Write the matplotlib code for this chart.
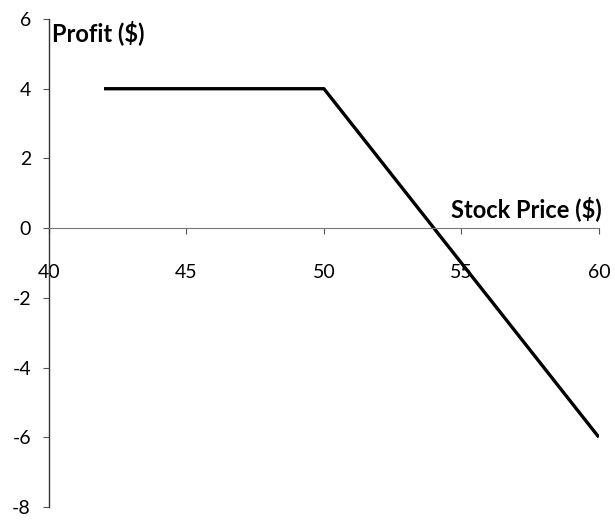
import matplotlib
matplotlib.use("Agg")
import matplotlib.pyplot as plt

# payoff of the position
stock_price = [42, 50, 60]
profit = [4, 4, -6]

x_ticks = [40, 45, 50, 55, 60]
y_ticks = [-8, -6, -4, -2, 0, 2, 4, 6]

plt.rcParams['font.family'] = ['Lato', 'DejaVu Sans']
plt.rcParams['axes.unicode_minus'] = False

fig = plt.figure(figsize=(6.15, 5.21), dpi=100)
ax = fig.add_axes([0.0797, 0.027, 0.894, 0.9365])

ax.plot(stock_price, profit, color='black', linewidth=2.4, solid_capstyle='butt')

for side in ['top', 'right']:
    ax.spines[side].set_visible(False)
# moving the spine resets ticks, so do it first
ax.spines['bottom'].set_position(('data', 0))
ax.spines['left'].set_color('#333333')
ax.spines['bottom'].set_color('#777777')
ax.spines['left'].set_linewidth(1.0)
ax.spines['bottom'].set_linewidth(0.8)

ax.set_xlim(40, 60)
ax.set_ylim(-8, 6)
ax.set_xticks(x_ticks)
ax.set_yticks(y_ticks)

ax.tick_params(axis='both', direction='out', length=4, width=0.8,
               color='#555555', labelsize=14)
ax.tick_params(axis='x', pad=22)
ax.tick_params(axis='y', pad=9)

ax.text(40.1, 5.6, 'Profit ($)', fontsize=17, fontweight='bold', ha='left', va='center')
ax.text(60.1, 0.55, 'Stock Price ($)', fontsize=17, fontweight='bold', ha='right', va='center')

fig.savefig('out.png', dpi=100)
